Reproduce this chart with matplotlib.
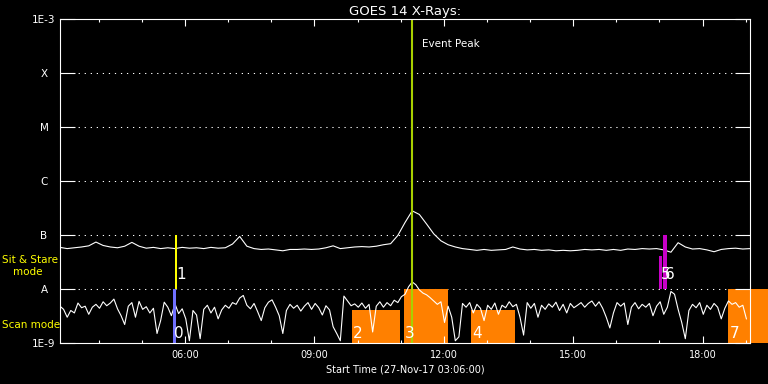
import matplotlib
matplotlib.use("Agg")
import matplotlib.pyplot as plt
import numpy as np
from matplotlib.ticker import FixedLocator, NullLocator, FuncFormatter

# time axis in hours of 27-Nov-17, start 03:06
start_hour = 3.1
end_hour = 19.1

# 1-8 A channel, 10 min samples, units of 1e-8 W/m^2
long_flux = [5.9, 5.6, 5.8, 6.0, 6.3, 7.4, 6.4, 6.0, 5.8, 6.2,
             7.3, 6.2, 5.7, 5.9, 5.6, 5.8, 5.6, 5.9, 5.7, 5.8,
             5.6, 5.9, 5.7, 5.8, 6.8, 9.4, 6.2, 5.6, 5.4, 5.5,
             5.3, 5.1, 5.4, 5.4, 5.5, 5.4, 5.5, 5.8, 6.3, 5.6,
             5.8, 6.0, 6.1, 6.0, 6.2, 6.6, 6.9, 9.8, 17.0, 28.0,
             24.0, 16.0, 10.5, 7.8, 6.6, 6.0, 5.6, 5.4, 5.2, 5.4,
             5.2, 5.3, 5.4, 6.0, 5.5, 5.3, 5.4, 5.2, 5.3, 5.1,
             5.2, 5.1, 5.2, 5.4, 5.3, 5.4, 5.2, 5.4, 5.2, 5.5,
             5.4, 5.6, 5.5, 5.6, 5.3, 4.8, 7.2, 6.0, 5.5, 5.6,
             5.3, 4.9, 5.4, 5.6, 5.7, 5.5, 5.6]

# 0.5-4 A channel, 5 min samples, units of 1e-9 W/m^2
short_flux = [4.8, 4.2, 3.0, 4.0, 3.6, 5.5, 4.5, 4.8, 3.4, 4.6,
              5.2, 4.4, 5.8, 4.9, 5.5, 6.5, 4.3, 3.2, 2.2, 4.8,
              5.6, 3.0, 5.9, 4.2, 4.7, 3.6, 4.4, 1.5, 2.6, 5.7,
              4.6, 3.2, 5.3, 3.5, 4.3, 2.8, 1.1, 4.0, 3.3, 1.2,
              4.2, 5.0, 3.6, 4.6, 2.8, 4.1, 5.0, 4.4, 5.6, 5.2,
              6.8, 7.6, 5.0, 4.3, 5.4, 3.8, 2.6, 4.5, 5.7, 6.3,
              4.6, 3.2, 1.5, 4.0, 5.2, 4.4, 5.0, 3.9, 4.8, 5.6,
              4.2, 5.4, 4.5, 3.3, 4.9, 4.1, 2.0, 1.5, 1.1, 7.4,
              6.0, 4.9, 5.3, 4.6, 5.5, 4.4, 5.2, 1.6, 4.8, 5.8,
              4.6, 5.6, 4.9, 6.2, 5.6, 7.2, 8.0, 11.0, 13.5, 12.0,
              9.6, 8.4, 7.8, 6.9, 6.0, 5.2, 5.8, 2.4, 4.8, 3.0,
              1.1, 1.3, 5.4, 4.6, 5.6, 3.6, 5.2, 4.4, 2.6, 5.0,
              4.2, 5.5, 3.4, 5.0, 4.5, 5.8, 4.7, 5.2, 3.0, 1.4,
              5.6, 4.4, 5.4, 3.0, 5.0, 4.2, 5.3, 4.6, 5.7, 4.0,
              5.2, 3.6, 5.4, 4.5, 5.0, 5.6, 4.6, 5.4, 6.0, 4.8,
              5.8, 4.4, 3.0, 1.9, 3.6, 5.6, 4.8, 5.5, 2.2, 4.6,
              5.6, 4.3, 5.2, 4.6, 5.4, 3.2, 4.8, 5.8, 3.4, 4.6,
              9.0, 8.0, 4.2, 2.4, 1.2, 4.0, 5.2, 4.5, 5.6, 3.4,
              5.0, 4.2, 5.4, 4.6, 2.8, 4.4, 6.0, 5.2, 5.6, 4.6,
              5.0, 2.8]

levels = [1e-9, 1e-8, 1e-7, 1e-6, 1e-5, 1e-4, 1e-3]
level_labels = ["1E-9", "A", "B", "C", "M", "X", "1E-3"]

# observing intervals (scan mode boxes and sit & stare bars)
event_ids = ["0", "1", "2", "3", "4", "5", "6", "7"]
event_start = [5.722, 5.762, 9.866, 11.069, 12.620, 16.995, 17.088, 18.593]
event_end = [5.785, 5.815, 10.977, 12.088, 13.662, 17.058, 17.181, 19.6]
event_low = [1e-9, 1e-8, 1e-9, 1e-9, 1e-9, 1e-8, 1e-8, 1e-9]
event_high = [1e-8, 1e-7, 4.1e-9, 1e-8, 4.1e-9, 4.1e-8, 1e-7, 1e-8]
event_color = ["#7070ff", "#ffff00", "#ff8000", "#ff8000", "#ff8000",
               "#c800c8", "#c800c8", "#ff8000"]
peak_hour = 11.26

t_long = start_hour + np.arange(len(long_flux)) / 6.0
t_short = start_hour + np.arange(len(short_flux)) / 12.0

fig = plt.figure(figsize=(7.68, 3.84), dpi=100, facecolor="black")
ax = fig.add_axes([60/768, 1 - 343/384, 690/768, 324/384])
ax.set_facecolor("black")
ax.set_yscale("log")
ax.set_xlim(start_hour, end_hour)
ax.set_ylim(1e-9, 1e-3)

for lv in levels[1:-1]:
    ax.axhline(lv, color="white", lw=0.75, ls=(0, (1.2, 4.6)), zorder=0.5)

for i in range(len(event_ids)):
    b = ax.bar(event_start[i], event_high[i] - event_low[i],
               width=event_end[i] - event_start[i], bottom=event_low[i],
               align="edge", color=event_color[i], lw=0,
               zorder=1 if event_color[i] == "#ff8000" else 3)
    for p in b:
        p.set_clip_on(False)

ax.plot(t_long, np.array(long_flux) * 1e-8, color="white", lw=0.8, zorder=2)
ax.plot(t_short, np.array(short_flux) * 1e-9, color="white", lw=0.8, zorder=2)

ax.axvline(peak_hour, color="#a8d000", lw=1.5, zorder=4)
ax.text(peak_hour + 0.24, 3.0e-4, "Event Peak", color="white", fontsize=7.5,
        ha="left", va="baseline", zorder=6)

for i in range(len(event_ids)):
    ylab = 1.25e-9 if event_low[i] == 1e-9 else 1.53e-8
    ax.text(event_start[i] + 0.03, ylab, event_ids[i], color="white", fontsize=11,
            ha="left", va="baseline", zorder=6)

ax.annotate("Sit & Stare", xy=(2/768, 3.0e-8), xycoords=("figure fraction", "data"),
            color="#ffff00", fontsize=7.5, ha="left", va="baseline", annotation_clip=False)
ax.annotate("mode", xy=(13/768, 1.82e-8), xycoords=("figure fraction", "data"),
            color="#ffff00", fontsize=7.5, ha="left", va="baseline", annotation_clip=False)
ax.annotate("Scan mode", xy=(2/768, 1.9e-9), xycoords=("figure fraction", "data"),
            color="#ffff00", fontsize=7.5, ha="left", va="baseline", annotation_clip=False)

# axes styling
for s in ax.spines.values():
    s.set_color("white")
    s.set_linewidth(0.8)
    s.set_zorder(5)

ax.xaxis.set_major_locator(FixedLocator([6, 9, 12, 15, 18]))
ax.xaxis.set_minor_locator(FixedLocator(list(range(4, 20))))
ax.xaxis.set_major_formatter(FuncFormatter(lambda v, p: "%02d:00" % int(round(v))))
ax.tick_params(axis="x", which="major", direction="in", length=5, width=0.8,
               top=True, bottom=True, colors="white", labelsize=7, pad=5)
ax.tick_params(axis="x", which="minor", direction="in", length=2.5, width=0.8,
               top=True, bottom=True, colors="white")

ax.set_yticks(levels, level_labels)
ax.yaxis.set_minor_locator(NullLocator())
ax.tick_params(axis="y", which="major", direction="in", length=10.5, width=0.8,
               left=True, right=True, colors="white", labelsize=7.5, pad=11.5)
for lab in ax.get_yticklabels():
    lab.set_horizontalalignment("center")

ax.set_title("GOES 14 X-Rays:", color="white", fontsize=9.5, pad=3)
ax.set_xlabel("Start Time (27-Nov-17 03:06:00)", color="white", fontsize=7, labelpad=3)

fig.savefig("out.png", dpi=100, facecolor="black")
